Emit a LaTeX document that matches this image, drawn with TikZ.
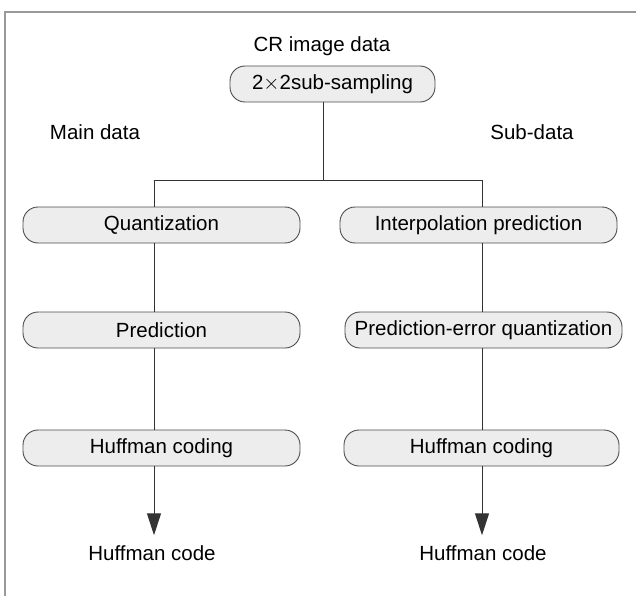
\documentclass[tikz,border=0pt]{standalone}
\usepackage{fontspec}
\setmainfont{Liberation Sans}
\usetikzlibrary{arrows.meta,calc}
\begin{document}
\begin{tikzpicture}[x=1pt,y=-1pt,
  procbox/.style={draw=black!70,line width=0.9pt,fill=black!7,rounded corners=15pt,
     minimum height=36pt,inner sep=0pt,font=\fontsize{20.5}{24}\selectfont},
  lbl/.style={inner sep=0pt,font=\fontsize{20.5}{24}\selectfont},
  link/.style={draw=black!80,line width=1pt},
  frame/.style={draw=black!40,line width=2pt}]
\useasboundingbox (0,0) rectangle (636,596);
% frame
\draw[frame] (5,596) -- (5,12) -- (636,12);
% columns
\coordinate (lx) at (154,0);
\coordinate (rx) at (482,0);
\coordinate (mx) at (323,0);
% top
\node[lbl] (cr) at (322,46) {CR image data};
\node[procbox,minimum width=205pt] (sub) at (332.5,84) {2$\times$2sub-sampling};
\node[lbl] (main) at (95,132) {Main data};
\node[lbl] (subd) at (532,132) {Sub-data};
% left column
\node[procbox,minimum width=277pt] (q) at (161.5,225) {Quantization};
\node[procbox,minimum width=277pt] (p) at (161.5,330) {Prediction};
\node[procbox,minimum width=277pt] (h1) at (161.5,448) {Huffman coding};
\node[lbl] (c1) at (152,553) {Huffman code};
% right column
\node[procbox,minimum width=277pt] (ip) at (478.5,225) {Interpolation prediction};
\node[procbox,minimum width=277pt] (pe) at (483.5,330) {Prediction-error quantization};
\node[procbox,minimum width=275pt] (h2) at (481.5,448) {Huffman coding};
\node[lbl] (c2) at (483,553) {Huffman code};
% split
\coordinate (jl) at (154,180);
\coordinate (jr) at (482,180);
\draw[link] (sub.south -| mx) -- (mx |- jl);
\draw[link] (q.north -| lx) -- (jl) -- (jr) -- (ip.north -| rx);
% chains
\draw[link] (q.south -| lx) -- (p.north -| lx);
\draw[link] (p.south -| lx) -- (h1.north -| lx);
\draw[link] (ip.south -| rx) -- (pe.north -| rx);
\draw[link] (pe.south -| rx) -- (h2.north -| rx);
\draw[link,-{Triangle[length=22pt,width=14pt]}] (h1.south -| lx) -- ($(c1.north -| lx)+(0,-10)$);
\draw[link,-{Triangle[length=22pt,width=14pt]}] (h2.south -| rx) -- ($(c2.north -| rx)+(0,-10)$);
\end{tikzpicture}
\end{document}
